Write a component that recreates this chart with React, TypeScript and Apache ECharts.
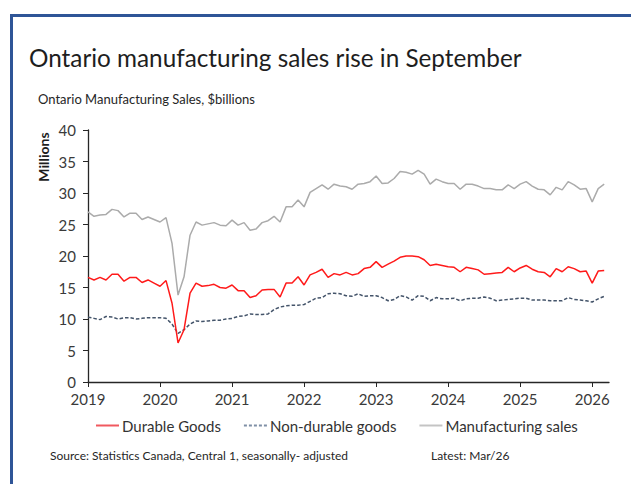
import React, { useEffect, useRef } from "react";
import * as echarts from "echarts";

const yearLabels = ["2019", "2020", "2021", "2022", "2023", "2024", "2025", "2026"];
const yearTickIndex = [0, 12, 24, 36, 48, 60, 72, 84];

const durableGoods = [
  16.6, 16.2, 16.6, 16.2, 17.1, 17.1, 16.0, 16.6, 16.6, 15.8, 16.2, 15.7,
  15.2, 16.1, 12.5, 6.2, 8.3, 14.1, 15.7, 15.2, 15.3, 15.5, 15.0, 14.9,
  15.4, 14.5, 14.5, 13.4, 13.7, 14.6, 14.7, 14.7, 13.5, 15.7, 15.7, 16.7,
  15.4, 17.0, 17.4, 17.9, 16.6, 17.2, 17.0, 17.4, 17.0, 17.2, 18.0, 18.2,
  19.1, 18.2, 18.7, 19.2, 19.8, 20.0, 20.0, 19.9, 19.4, 18.5, 18.7, 18.5,
  18.3, 18.2, 17.5, 18.2, 18.0, 17.8, 17.1, 17.2, 17.3, 17.4, 18.2, 17.5,
  18.1, 18.5, 17.9, 17.5, 17.4, 16.7, 18.0, 17.5, 18.3, 18.0, 17.5, 17.6,
  15.7, 17.6, 17.7,
];

const nonDurableGoods = [
  10.3, 10.1, 9.9, 10.4, 10.3, 10.0, 10.2, 10.2, 10.0, 10.1, 10.2, 10.2,
  10.2, 10.1, 9.2, 7.7, 8.3, 9.2, 9.7, 9.6, 9.7, 9.8, 9.8, 10.0,
  10.1, 10.4, 10.5, 10.8, 10.7, 10.7, 10.8, 11.5, 11.9, 12.1, 12.2, 12.2,
  12.3, 12.8, 13.3, 13.4, 14.0, 14.1, 14.0, 13.7, 13.6, 14.0, 13.6, 13.7,
  13.7, 13.4, 12.9, 13.1, 13.7, 13.5, 13.0, 13.7, 13.6, 12.9, 13.4, 13.2,
  13.2, 13.3, 12.9, 13.2, 13.3, 13.3, 13.5, 13.3, 12.9, 13.0, 13.1, 13.2,
  13.3, 13.3, 13.0, 13.0, 13.0, 12.9, 12.9, 12.9, 13.4, 13.1, 13.0, 12.9,
  12.7, 13.2, 13.6,
];

const manufacturingSales = [
  27.0, 26.3, 26.5, 26.6, 27.4, 27.2, 26.2, 26.8, 26.8, 25.8, 26.2, 25.8,
  25.4, 26.1, 22.0, 13.8, 16.7, 23.3, 25.4, 24.9, 25.1, 25.3, 24.9, 24.8,
  25.7, 24.9, 25.3, 24.1, 24.3, 25.3, 25.6, 26.3, 25.4, 27.8, 27.8, 28.9,
  27.8, 30.1, 30.7, 31.3, 30.6, 31.4, 31.1, 31.0, 30.6, 31.4, 31.5, 31.8,
  32.7, 31.5, 31.6, 32.3, 33.4, 33.3, 33.0, 33.6, 33.0, 31.4, 32.2, 31.8,
  31.5, 31.5, 30.6, 31.4, 31.4, 31.1, 30.7, 30.7, 30.5, 30.5, 31.3, 30.7,
  31.4, 31.8, 31.1, 30.6, 30.5, 29.7, 30.9, 30.5, 31.8, 31.3, 30.6, 30.7,
  28.6, 30.7, 31.4,
];

const FONT = "Lato";

const SOLID_ICON = "path://M0,0h23v2h-23z";
const DASH_ICON =
  "path://M0,0h3v2h-3z M5,0h3v2h-3z M10,0h3v2h-3z M15,0h3v2h-3z M20,0h3v2h-3z";

function toPairs(vals: number[]) {
  return vals.map((v, i) => [i, v]);
}

export default function App() {
  const ref = useRef<HTMLDivElement>(null);

  useEffect(() => {
    if (!ref.current) return;
    const chart = echarts.init(ref.current, undefined, { renderer: "svg" });
    chart.setOption({
      animation: false,
      backgroundColor: "#ffffff",
      textStyle: { fontFamily: FONT },
      title: [
        {
          text: "Ontario manufacturing sales rise in September",
          left: 29,
          top: 45,
          padding: 0,
          textStyle: { fontFamily: FONT, fontSize: 24.3, fontWeight: "normal", color: "#1e1e1e" },
        },
        {
          text: "Ontario Manufacturing Sales, $billions",
          left: 38,
          top: 92,
          padding: 0,
          textStyle: { fontFamily: FONT, fontSize: 13, fontWeight: "normal", color: "#262626" },
        },
        {
          text: "Source: Statistics Canada, Central 1, seasonally- adjusted",
          left: 50,
          top: 449,
          padding: 0,
          textStyle: { fontFamily: FONT, fontSize: 12, fontWeight: "normal", color: "#262626" },
        },
        {
          text: "Latest: Mar/26",
          left: 431,
          top: 449,
          padding: 0,
          textStyle: { fontFamily: FONT, fontSize: 12, fontWeight: "normal", color: "#262626" },
        },
      ],
      legend: {
        left: 96,
        top: 418,
        itemWidth: 23,
        itemHeight: 2,
        itemGap: 23,
        padding: 0,
        textStyle: { fontFamily: FONT, fontSize: 15, color: "#333333", padding: [0, 0, 0, -2] },
        data: [
          { name: "Durable Goods", icon: SOLID_ICON },
          { name: "Non-durable goods", icon: DASH_ICON },
          { name: "Manufacturing sales", icon: SOLID_ICON },
        ],
      },
      grid: {
        left: 88,
        top: 130,
        width: 521,
        height: 252,
        containLabel: false,
        outerBoundsMode: "none",
      },
      xAxis: {
        type: "value",
        min: 0,
        max: 86.8,
        splitLine: { show: false },
        axisLine: { show: true, lineStyle: { color: "#262626", width: 1.3 } },
        axisTick: {
          show: true,
          inside: false,
          length: 5,
          customValues: yearTickIndex,
          lineStyle: { color: "#262626" },
        },
        axisLabel: {
          customValues: yearTickIndex,
          margin: 9,
          fontFamily: FONT,
          fontSize: 15,
          color: "#3a3a3a",
          formatter: (v: number) => {
            const k = yearTickIndex.indexOf(Math.round(v));
            return k >= 0 ? yearLabels[k] : "";
          },
        },
      },
      yAxis: {
        type: "value",
        min: 0,
        max: 40,
        interval: 5,
        splitLine: { show: false },
        axisLine: { show: true, lineStyle: { color: "#262626", width: 1.3 } },
        axisTick: { show: true, inside: false, length: 5, lineStyle: { color: "#262626" } },
        axisLabel: { margin: 12, fontFamily: FONT, fontSize: 15, color: "#3a3a3a" },
      },
      graphic: [
        {
          type: "polyline",
          silent: true,
          shape: { points: [[11.5, 484], [11.5, 15.5], [631, 15.5]] },
          style: { stroke: "#2F5597", lineWidth: 3, fill: "none" },
        },
        {
          type: "text",
          x: 43,
          y: 157,
          rotation: Math.PI / 2,
          style: {
            text: "Millions",
            fontFamily: FONT,
            fontSize: 14,
            fontWeight: "bold",
            fill: "#1e1e1e",
            align: "center",
            verticalAlign: "middle",
          },
        },
      ],
      series: [
        {
          name: "Durable Goods",
          type: "line",
          data: toPairs(durableGoods),
          symbol: "none",
          lineStyle: { color: "#FF1A1A", width: 1.5 },
          itemStyle: { color: "#F0595F" },
          z: 3,
        },
        {
          name: "Non-durable goods",
          type: "line",
          data: toPairs(nonDurableGoods),
          symbol: "none",
          lineStyle: { color: "#44546A", width: 1.5, type: [3.5, 2] },
          itemStyle: { color: "#7F8FA6" },
          z: 2,
        },
        {
          name: "Manufacturing sales",
          type: "line",
          data: toPairs(manufacturingSales),
          symbol: "none",
          lineStyle: { color: "#ABABAB", width: 1.5 },
          itemStyle: { color: "#C4C4C4" },
          z: 1,
        },
      ],
    });
    return () => chart.dispose();
  }, []);

  return (
    <div
      ref={ref}
      style={{ position: "fixed", left: 0, top: 0, width: 631, height: 484, background: "#fff" }}
    />
  );
}
